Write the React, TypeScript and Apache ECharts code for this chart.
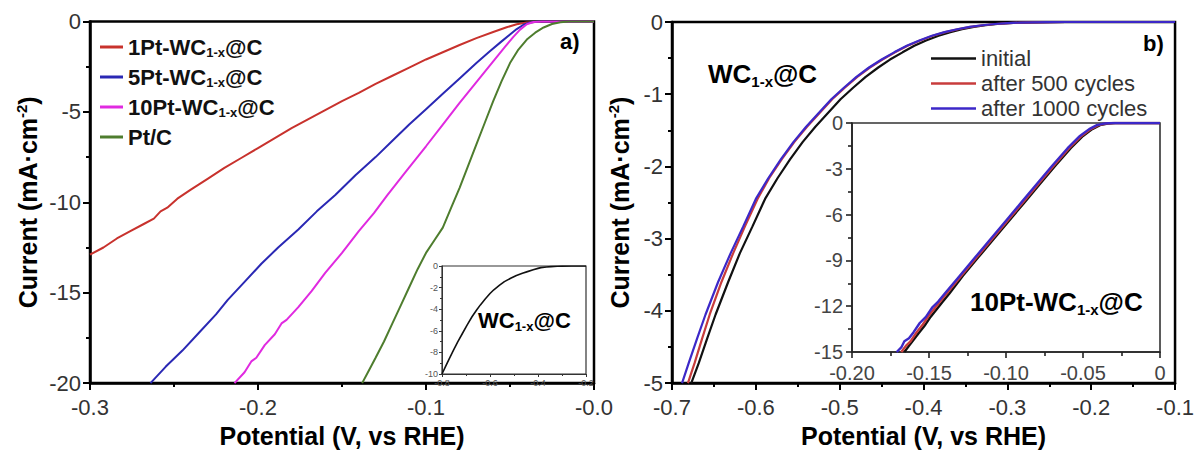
import React, { useEffect, useRef } from 'react';
import * as echarts from 'echarts';

const FONT = 'Liberation Sans, Arial, Helvetica, sans-serif';

// ---- panel a) main ----
const leftNames = ['1Pt-WC1-x@C', '5Pt-WC1-x@C', '10Pt-WC1-x@C', 'Pt/C'];
const leftColors = ['#c8322d', '#2a28b4', '#e02ae0', '#4e7d2e'];
const pt1: number[][] = [[-0.300,-12.9],[-0.292,-12.5],[-0.284,-12.0],[-0.276,-11.6],[-0.268,-11.2],[-0.262,-10.9],[-0.258,-10.5],[-0.254,-10.3],[-0.248,-9.8],[-0.240,-9.3],[-0.230,-8.7],[-0.220,-8.1],[-0.210,-7.55],[-0.200,-7.0],[-0.190,-6.45],[-0.180,-5.9],[-0.170,-5.4],[-0.160,-4.9],[-0.150,-4.4],[-0.140,-3.95],[-0.130,-3.45],[-0.120,-3.0],[-0.110,-2.55],[-0.100,-2.1],[-0.090,-1.7],[-0.080,-1.3],[-0.070,-0.92],[-0.060,-0.58],[-0.052,-0.32],[-0.046,-0.15],[-0.040,-0.05],[-0.032,-0.01],[-0.020,0],[0,0]];
const pt5: number[][] = [[-0.264,-20],[-0.255,-19.1],[-0.245,-18.2],[-0.235,-17.2],[-0.225,-16.2],[-0.218,-15.4],[-0.208,-14.4],[-0.198,-13.4],[-0.188,-12.5],[-0.176,-11.5],[-0.165,-10.5],[-0.154,-9.6],[-0.142,-8.5],[-0.130,-7.5],[-0.120,-6.6],[-0.110,-5.7],[-0.100,-4.85],[-0.090,-4.0],[-0.080,-3.15],[-0.070,-2.3],[-0.062,-1.65],[-0.055,-1.1],[-0.050,-0.72],[-0.046,-0.42],[-0.042,-0.18],[-0.038,-0.05],[-0.033,0],[0,0]];
const pt10: number[][] = [[-0.214,-20],[-0.208,-19.4],[-0.204,-18.8],[-0.201,-18.6],[-0.196,-17.9],[-0.190,-17.3],[-0.186,-16.7],[-0.183,-16.5],[-0.176,-15.8],[-0.168,-14.9],[-0.160,-13.9],[-0.150,-12.8],[-0.140,-11.6],[-0.131,-10.6],[-0.123,-9.6],[-0.112,-8.3],[-0.100,-6.9],[-0.090,-5.7],[-0.080,-4.5],[-0.070,-3.35],[-0.060,-2.2],[-0.053,-1.4],[-0.048,-0.85],[-0.044,-0.45],[-0.040,-0.15],[-0.036,-0.03],[-0.031,0],[0,0]];
const ptc: number[][] = [[-0.138,-20],[-0.134,-19.3],[-0.130,-18.6],[-0.125,-17.7],[-0.120,-16.7],[-0.115,-15.7],[-0.110,-14.7],[-0.105,-13.7],[-0.100,-12.8],[-0.095,-12.1],[-0.090,-11.4],[-0.085,-10.3],[-0.080,-9.2],[-0.075,-8.0],[-0.070,-6.8],[-0.065,-5.6],[-0.060,-4.4],[-0.055,-3.3],[-0.050,-2.3],[-0.045,-1.55],[-0.040,-1.0],[-0.035,-0.62],[-0.030,-0.33],[-0.025,-0.14],[-0.020,-0.04],[-0.015,0],[0,0]];

// ---- panel a) inset ----
const wcInset: number[][] = [[-0.800,-10],[-0.785,-9.3],[-0.770,-8.6],[-0.751,-7.75],[-0.735,-7.05],[-0.715,-6.25],[-0.695,-5.45],[-0.675,-4.7],[-0.655,-4.05],[-0.640,-3.6],[-0.620,-3.05],[-0.600,-2.55],[-0.584,-2.2],[-0.560,-1.78],[-0.540,-1.45],[-0.514,-1.14],[-0.490,-0.88],[-0.465,-0.67],[-0.444,-0.52],[-0.420,-0.35],[-0.400,-0.22],[-0.388,-0.15],[-0.365,-0.09],[-0.346,-0.06],[-0.320,-0.03],[-0.300,-0.015],[-0.260,-0.004],[-0.200,0]];

// ---- panel b) main ----
const rightNames = ['initial', 'after 500 cycles', 'after 1000 cycles'];
const rightColors = ['#111111', '#c83c3c', '#3c28c8'];
const wcInit: number[][] = [[-0.677,-5.0],[-0.668,-4.72],[-0.658,-4.38],[-0.648,-4.05],[-0.633,-3.6],[-0.619,-3.2],[-0.604,-2.83],[-0.589,-2.45],[-0.574,-2.16],[-0.559,-1.9],[-0.544,-1.66],[-0.529,-1.45],[-0.514,-1.26],[-0.499,-1.07],[-0.484,-0.91],[-0.469,-0.76],[-0.454,-0.63],[-0.440,-0.52],[-0.425,-0.42],[-0.411,-0.33],[-0.397,-0.255],[-0.382,-0.19],[-0.368,-0.14],[-0.354,-0.10],[-0.340,-0.068],[-0.326,-0.045],[-0.312,-0.028],[-0.298,-0.016],[-0.284,-0.008],[-0.270,-0.004],[-0.250,-0.001],[-0.230,0],[-0.100,0]];
const wc500: number[][] = [[-0.681,-5.0],[-0.673,-4.72],[-0.664,-4.38],[-0.655,-4.05],[-0.641,-3.6],[-0.627,-3.2],[-0.613,-2.83],[-0.598,-2.45],[-0.584,-2.16],[-0.569,-1.9],[-0.554,-1.66],[-0.539,-1.45],[-0.524,-1.26],[-0.509,-1.07],[-0.494,-0.91],[-0.479,-0.76],[-0.464,-0.63],[-0.449,-0.52],[-0.434,-0.42],[-0.419,-0.33],[-0.404,-0.255],[-0.389,-0.19],[-0.374,-0.14],[-0.359,-0.10],[-0.344,-0.068],[-0.329,-0.045],[-0.314,-0.028],[-0.299,-0.016],[-0.284,-0.008],[-0.270,-0.004],[-0.250,-0.001],[-0.230,0],[-0.100,0]];
const wc1000: number[][] = [[-0.688,-5.0],[-0.680,-4.72],[-0.670,-4.38],[-0.660,-4.05],[-0.645,-3.6],[-0.630,-3.2],[-0.615,-2.83],[-0.600,-2.45],[-0.585,-2.16],[-0.570,-1.9],[-0.555,-1.66],[-0.540,-1.45],[-0.525,-1.26],[-0.510,-1.07],[-0.495,-0.91],[-0.480,-0.76],[-0.465,-0.63],[-0.450,-0.52],[-0.435,-0.42],[-0.420,-0.33],[-0.405,-0.255],[-0.390,-0.19],[-0.375,-0.14],[-0.360,-0.10],[-0.345,-0.068],[-0.330,-0.045],[-0.315,-0.028],[-0.300,-0.016],[-0.285,-0.008],[-0.270,-0.004],[-0.250,-0.001],[-0.230,0],[-0.100,0]];

// ---- panel b) inset (10Pt-WC1-x@C) ----
const inInit: number[][] = [[-0.166,-15],[-0.163,-14.6],[-0.160,-14.2],[-0.157,-13.8],[-0.153,-13.3],[-0.149,-12.7],[-0.145,-12.2],[-0.141,-11.7],[-0.137,-11.2],[-0.128,-10.0],[-0.118,-8.8],[-0.108,-7.6],[-0.098,-6.4],[-0.088,-5.2],[-0.078,-4.0],[-0.068,-2.8],[-0.058,-1.65],[-0.050,-0.85],[-0.044,-0.4],[-0.039,-0.14],[-0.034,-0.03],[-0.029,0],[0,0]];
const in500: number[][] = [[-0.168,-15],[-0.165,-14.6],[-0.162,-14.3],[-0.158,-13.7],[-0.154,-13.2],[-0.150,-12.6],[-0.146,-12.1],[-0.142,-11.6],[-0.138,-11.1],[-0.129,-10.0],[-0.119,-8.8],[-0.109,-7.6],[-0.099,-6.4],[-0.089,-5.2],[-0.079,-4.0],[-0.069,-2.8],[-0.059,-1.65],[-0.051,-0.85],[-0.045,-0.4],[-0.040,-0.14],[-0.035,-0.03],[-0.030,0],[0,0]];
const in1000: number[][] = [[-0.171,-15],[-0.168,-14.7],[-0.166,-14.3],[-0.163,-14.1],[-0.160,-13.7],[-0.156,-13.1],[-0.152,-12.7],[-0.148,-12.1],[-0.144,-11.7],[-0.140,-11.2],[-0.130,-10.0],[-0.120,-8.8],[-0.110,-7.6],[-0.100,-6.4],[-0.090,-5.2],[-0.080,-4.0],[-0.070,-2.8],[-0.060,-1.65],[-0.052,-0.85],[-0.046,-0.4],[-0.041,-0.14],[-0.036,-0.03],[-0.031,0],[0,0]];

function richName(name: string): string {
  const m = name.match(/^(.*WC)(1-x)(@C)$/);
  if (m) return `{b|${m[1]}}{s|${m[2]}}{b|${m[3]}}`;
  return `{b|${name}}`;
}

function mainAxis(extra: any) {
  return {
    type: 'value',
    axisLine: { show: true, onZero: false, lineStyle: { color: '#000', width: 2.5 } },
    axisTick: { show: true, length: 7, lineStyle: { color: '#000', width: 2 } },
    minorTick: { show: true, splitNumber: 2, length: 4, lineStyle: { color: '#000', width: 2 } },
    splitLine: { show: false },
    minorSplitLine: { show: false },
    ...extra,
  };
}

function insetAxis(extra: any, col: string, lw: number, tl: number) {
  return {
    type: 'value',
    axisLine: { show: true, onZero: false, lineStyle: { color: col, width: lw } },
    axisTick: { show: true, length: tl, lineStyle: { color: col, width: lw } },
    minorTick: { show: true, splitNumber: 2, length: Math.max(2, tl - 2), lineStyle: { color: col, width: lw } },
    splitLine: { show: false },
    minorSplitLine: { show: false },
    ...extra,
  };
}

const yNameRich = {
  b: { fontSize: 25, fontWeight: 'bold', color: '#000', fontFamily: FONT, lineHeight: 28 },
  p: { fontSize: 15, fontWeight: 'bold', color: '#000', fontFamily: FONT, lineHeight: 14, verticalAlign: 'top' },
};
const xNameStyle = { fontSize: 25, fontWeight: 'bold', color: '#000', fontFamily: FONT };
const mainLabel = { fontSize: 22, color: '#333', fontFamily: FONT };

function labelText(x: number, y: number, text: string, fs: number, sfs: number) {
  return {
    type: 'text',
    x,
    y,
    z: 100,
    style: {
      text,
      align: 'left',
      verticalAlign: 'middle',
      rich: {
        b: { fontSize: fs, fontWeight: 'bold', fill: '#000', fontFamily: FONT, lineHeight: fs + 4 },
        s: { fontSize: sfs, fontWeight: 'bold', fill: '#000', fontFamily: FONT, lineHeight: sfs, verticalAlign: 'bottom' },
      },
    },
  };
}

export default function App() {
  const ref = useRef<HTMLDivElement>(null);
  useEffect(() => {
    if (!ref.current) return;
    const chart = echarts.init(ref.current, undefined, { renderer: 'svg' });
    const leftData = [pt1, pt5, pt10, ptc];
    const rightData = [wcInit, wc500, wc1000];
    const insetData = [inInit, in500, in1000];
    const series: any[] = [];
    leftData.forEach((d, i) => {
      series.push({ name: leftNames[i], type: 'line', xAxisIndex: 0, yAxisIndex: 0, data: d, symbol: 'none', lineStyle: { color: leftColors[i], width: 2 }, itemStyle: { color: leftColors[i] } });
    });
    series.push({ name: 'WC1-x@C inset', type: 'line', xAxisIndex: 1, yAxisIndex: 1, data: wcInset, symbol: 'none', lineStyle: { color: '#111', width: 1.6 }, itemStyle: { color: '#111' } });
    rightData.forEach((d, i) => {
      series.push({ name: rightNames[i], type: 'line', xAxisIndex: 2, yAxisIndex: 2, data: d, symbol: 'none', lineStyle: { color: rightColors[i], width: 2.2 }, itemStyle: { color: rightColors[i] } });
    });
    insetData.forEach((d, i) => {
      series.push({ name: '10Pt ' + rightNames[i], type: 'line', xAxisIndex: 3, yAxisIndex: 3, data: d, symbol: 'none', lineStyle: { color: rightColors[i], width: 2.4 }, itemStyle: { color: rightColors[i] } });
    });

    const option: any = {
      animation: false,
      backgroundColor: '#fff',
      grid: [
        { left: 90, top: 21.5, width: 504, height: 371.5, show: true, borderColor: '#000', borderWidth: 2.5, backgroundColor: 'transparent' },
        { left: 442, top: 266, width: 144, height: 108, show: true, borderColor: '#333', borderWidth: 1.2, backgroundColor: '#fff' },
        { left: 672, top: 22, width: 505, height: 372, show: true, borderColor: '#000', borderWidth: 2.5, backgroundColor: 'transparent' },
        { left: 852, top: 123, width: 308, height: 229, show: true, borderColor: '#333', borderWidth: 1.6, backgroundColor: '#fff' },
      ],
      xAxis: [
        mainAxis({ gridIndex: 0, min: -0.3, max: 0, interval: 0.1, name: 'Potential (V, vs RHE)', nameLocation: 'middle', nameGap: 39, nameTextStyle: xNameStyle,
          axisLabel: { ...mainLabel, margin: 13, formatter: (v: number) => (Math.abs(v) < 1e-9 ? '-0.0' : v.toFixed(1)) } }),
        insetAxis({ gridIndex: 1, min: -0.8, max: -0.2, interval: 0.2, axisLabel: { fontSize: 9, color: '#555', fontFamily: FONT, margin: 4, formatter: (v: number) => v.toFixed(1) } }, '#333', 1, 3),
        mainAxis({ gridIndex: 2, min: -0.7, max: -0.1, interval: 0.1, name: 'Potential (V, vs RHE)', nameLocation: 'middle', nameGap: 39, nameTextStyle: xNameStyle,
          axisLabel: { ...mainLabel, margin: 13, formatter: (v: number) => v.toFixed(1) } }),
        insetAxis({ gridIndex: 3, min: -0.2, max: 0, interval: 0.05, axisLabel: { fontSize: 20, color: '#444', fontFamily: FONT, margin: 11, formatter: (v: number) => (Math.abs(v) < 1e-9 ? '0' : v.toFixed(2)) } }, '#222', 1.6, 6),
      ],
      yAxis: [
        mainAxis({ gridIndex: 0, min: -20, max: 0, interval: 5, name: '{b|Current (mA·cm}{p|-2}{b|)}', nameLocation: 'middle', nameRotate: 90, nameGap: 48, nameTextStyle: { rich: yNameRich },
          axisLabel: { ...mainLabel, margin: 9 } }),
        insetAxis({ gridIndex: 1, min: -10, max: 0, interval: 2, axisLabel: { fontSize: 9, color: '#555', fontFamily: FONT, margin: 4 } }, '#333', 1, 3),
        mainAxis({ gridIndex: 2, min: -5, max: 0, interval: 1, name: '{b|Current (mA·cm}{p|-2}{b|)}', nameLocation: 'middle', nameRotate: 90, nameGap: 38, nameTextStyle: { rich: yNameRich },
          axisLabel: { ...mainLabel, margin: 9 } }),
        insetAxis({ gridIndex: 3, min: -15, max: 0, interval: 3, axisLabel: { fontSize: 20, color: '#444', fontFamily: FONT, margin: 9 } }, '#222', 1.6, 6),
      ],
      legend: [
        {
          data: leftNames, orient: 'vertical', left: 95, top: 31, icon: 'rect', itemWidth: 23, itemHeight: 3, itemGap: 7, selectedMode: false,
          formatter: richName,
          textStyle: {
            rich: {
              b: { fontSize: 22, fontWeight: 'bold', color: '#111', fontFamily: FONT, lineHeight: 24 },
              s: { fontSize: 13, fontWeight: 'bold', color: '#111', fontFamily: FONT, lineHeight: 12, verticalAlign: 'bottom' },
            },
          },
        },
        {
          data: rightNames, orient: 'vertical', left: 926, top: 41, icon: 'rect', itemWidth: 45, itemHeight: 2.5, itemGap: 0, selectedMode: false,
          textStyle: { fontSize: 22, color: '#333', fontFamily: FONT, lineHeight: 25 },
        },
      ],
      graphic: [
        labelText(560, 41, '{b|a)}', 22, 13),
        labelText(1143, 43, '{b|b)}', 22, 13),
        labelText(708, 74, '{b|WC}{s|1-x}{b|@C}', 26, 15),
        labelText(478, 320, '{b|WC}{s|1-x}{b|@C}', 22, 13),
        labelText(970, 302, '{b|10Pt-WC}{s|1-x}{b|@C}', 26, 15),
      ],
      series,
    };
    chart.setOption(option);
    return () => chart.dispose();
  }, []);
  return <div ref={ref} style={{ position: 'fixed', left: 0, top: 0, width: 1197, height: 453, background: '#fff' }} />;
}
